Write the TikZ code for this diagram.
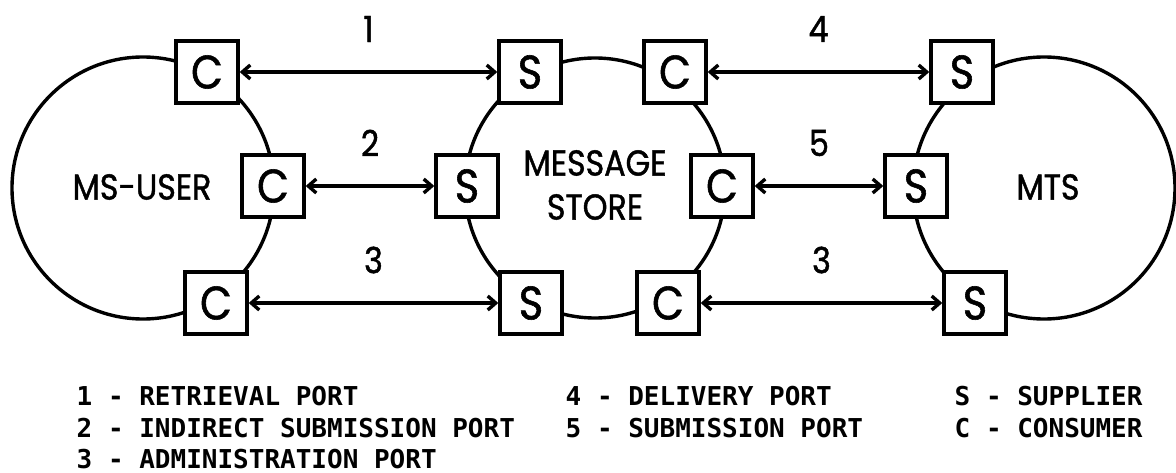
\documentclass[tikz,border=0pt]{standalone}
\usepackage{fontspec}
\usepackage{tikz}
\usetikzlibrary{arrows.meta, positioning}
\newfontfamily\objfont[FakeStretch=0.88, FakeBold=1.2]{Poppins}
\newfontfamily\keyfont{DejaVu Sans Mono}

\begin{document}
\begin{tikzpicture}[x=1pt, y=-1pt, line width=3.4pt,
		portbox/.style={draw, fill=white, minimum size=62pt, inner sep=0pt,
			font=\objfont\fontsize{47}{47}\selectfont},
		link/.style={{Straight Barb[length=8pt,width=14pt]}-{Straight Barb[length=8pt,width=14pt]}},
		num/.style={midway, yshift=43pt, font=\objfont\fontsize{36}{36}\selectfont},
		obj/.style={align=center, font=\objfont\fontsize{36}{44}\selectfont},
		key/.style={anchor=base west, inner sep=0pt, font=\keyfont\bfseries\fontsize{26}{26}\selectfont}]
	\useasboundingbox (0,0) rectangle (1176,473);
	
	% the three objects
	\draw (143,188) circle[radius=131pt];
	\draw (595,188) circle[radius=130pt];
	\draw (1044,188) circle[radius=131pt];
	\node[obj] (msuser) at (142,187) {MS-USER};
	\node[obj] (mstore) at (595,185) {MESSAGE\\STORE};
	\node[obj] (mts) at (1048,187) {MTS};
	
	% ports
	\node[portbox] (uc1) at (207,72) {C};
	\node[portbox] (uc2) at (273,186) {C};
	\node[portbox] (uc3) at (216,303) {C};
	\node[portbox] (ms1) at (530,72) {S};
	\node[portbox] (ms2) at (467,186) {S};
	\node[portbox] (ms3) at (531,303) {S};
	\node[portbox] (mc4) at (675,72) {C};
	\node[portbox] (mc5) at (722,186) {C};
	\node[portbox] (mc3) at (668,303) {C};
	\node[portbox] (ts4) at (962,72) {S};
	\node[portbox] (ts5) at (916,186) {S};
	\node[portbox] (ts3) at (975,303) {S};
	
	% bindings
	\draw[link] (uc1) -- node[num] {1} (ms1);
	\draw[link] (uc2) -- node[num] {2} (ms2);
	\draw[link] (uc3) -- node[num] {3} (ms3);
	\draw[link] (mc4) -- node[num] {4} (ts4);
	\draw[link] (mc5) -- node[num] {5} (ts5);
	\draw[link] (mc3) -- node[num] {3} (ts3);
	
	% key
	\node[key] (key1) at (75,405) {1 - RETRIEVAL PORT};
	\node[key] (key2) at (75,437) {2 - INDIRECT SUBMISSION PORT};
	\node[key] (key3) at (75,468) {3 - ADMINISTRATION PORT};
	\node[key] (key4) at (564,405) {4 - DELIVERY PORT};
	\node[key] (key5) at (564,437) {5 - SUBMISSION PORT};
	\node[key] (keys) at (953,405) {S - SUPPLIER};
	\node[key] (keyc) at (953,437) {C - CONSUMER};
\end{tikzpicture}
\end{document}
